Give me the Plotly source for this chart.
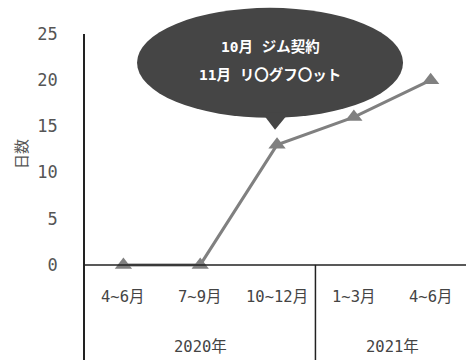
import plotly.graph_objects as go

quarters = ["4~6月", "7~9月", "10~12月", "1~3月", "4~6月"]
years = ["2020年", "2021年"]
year_spans = [(0, 2), (3, 4)]
days = [0, 0, 13, 16, 20]
y_ticks = [0, 5, 10, 15, 20, 25]
callout_lines = ["10月 ジム契約", "11月 リ〇グフ〇ット"]
callout_index = 2

FONT = "DejaVu Sans Mono, Noto Sans CJK JP, monospace"
xs = list(range(len(quarters)))

W, H = 466, 360
ML, MT = 85, 34
X_RANGE = [-0.5, 4.46]
Y_MIN, Y_MAX = -10.3, 25


def paper_x(v):
    return (v - X_RANGE[0]) / (X_RANGE[1] - X_RANGE[0])


def paper_y(v):
    return (v - Y_MIN) / (Y_MAX - Y_MIN)


fig = go.Figure()
fig.add_trace(go.Scatter(
    x=xs, y=days, mode="lines+markers",
    line=dict(color="#808080", width=3),
    marker=dict(symbol="triangle-up", size=15, color="#808080"),
    showlegend=False, hoverinfo="skip"))

shapes = []
shapes.append(dict(type="line", xref="paper", x0=0, x1=1, yref="y", y0=0, y1=0,
                   line=dict(color="#222", width=1.5)))
shapes.append(dict(type="line", xref="x", x0=2.5, x1=2.5, yref="y", y0=Y_MIN, y1=0,
                   line=dict(color="#222", width=1.5)))
ax_ = paper_x(callout_index)
ay_ = paper_y(days[callout_index])
shapes.append(dict(type="circle", xref="paper", yref="paper", xsizemode="pixel", ysizemode="pixel",
                   xanchor=ax_, yanchor=ay_, x0=-140, x1=126, y0=27, y1=137,
                   fillcolor="#454545", line=dict(width=0), layer="above"))
shapes.append(dict(type="path", xref="paper", yref="paper", xsizemode="pixel", ysizemode="pixel",
                   xanchor=ax_, yanchor=ay_, path="M -15 32 L 12 32 L -2 15 Z",
                   fillcolor="#454545", line=dict(width=0), layer="above"))

annotations = []
for line_txt, ys in zip(callout_lines, [98, 70]):
    annotations.append(dict(x=callout_index, y=days[callout_index], xref="x", yref="y",
                            text="<b>" + line_txt + "</b>",
                            showarrow=False, xshift=-7, yshift=ys,
                            font=dict(family=FONT, size=14.5, color="white")))
for i, q in enumerate(quarters):
    annotations.append(dict(x=i, y=-3.5, xref="x", yref="y", text=q, showarrow=False,
                            font=dict(family=FONT, size=15.5, color="#444")))
for yr, (a, b) in zip(years, year_spans):
    annotations.append(dict(x=(a + b) / 2, y=-8.9, xref="x", yref="y", text=yr, showarrow=False,
                            font=dict(family=FONT, size=15.5, color="#444")))
plot_w, plot_h = W - ML, H - MT
annotations.append(dict(x=(22 - ML) / plot_w, y=(H - 154) / plot_h, xref="paper", yref="paper",
                        text="日数", textangle=-90, xanchor="center", yanchor="middle",
                        showarrow=False, font=dict(family=FONT, size=15, color="#555")))

fig.update_layout(
    width=W, height=H,
    margin=dict(l=ML, r=0, t=MT, b=0),
    paper_bgcolor="white", plot_bgcolor="white",
    shapes=shapes, annotations=annotations,
    xaxis=dict(range=X_RANGE, showgrid=False, zeroline=False, showticklabels=False,
               showline=False, fixedrange=True),
    yaxis=dict(range=[Y_MIN, Y_MAX], tickvals=y_ticks, showgrid=False, zeroline=False,
               showline=True, linecolor="#222", linewidth=1.5,
               ticklabelstandoff=22,
               tickfont=dict(family=FONT, size=17, color="#555")),
)

fig.write_html("out.html")
